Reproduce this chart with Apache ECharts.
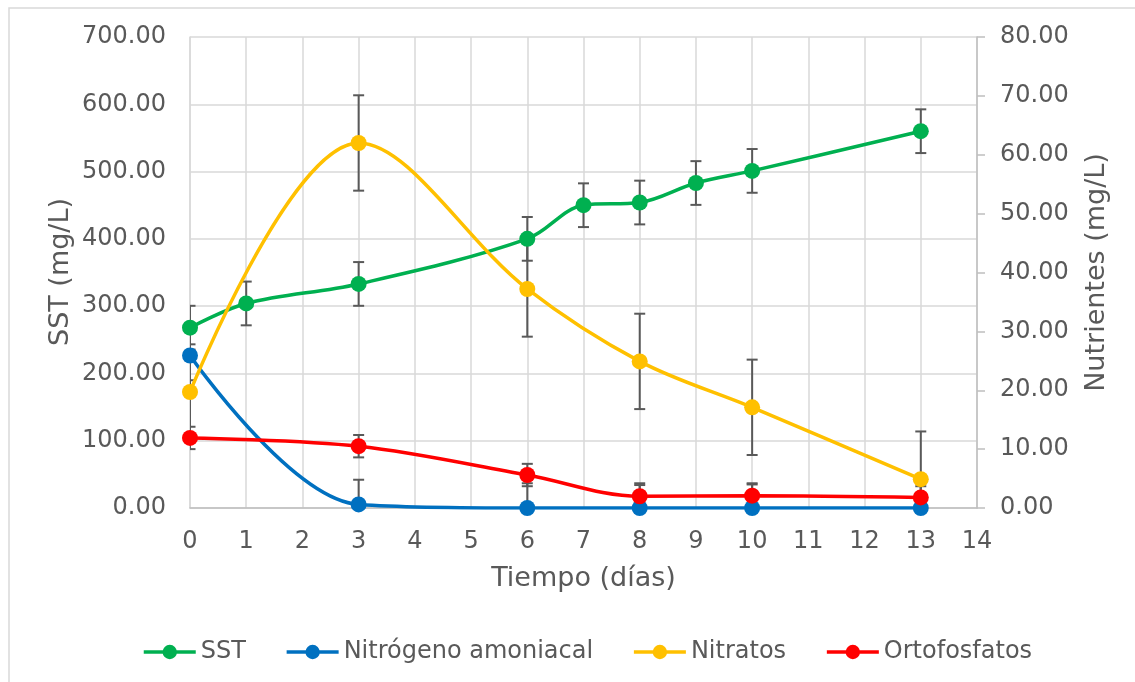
<!DOCTYPE html>
<html>
<head>
<meta charset="utf-8">
<script src="https://cdn.jsdelivr.net/npm/echarts@6/dist/echarts.min.js"></script>
<style>html,body{margin:0;padding:0;background:#fff}#c{width:1135px;height:682px}</style>
</head>
<body>
<div id="c"></div>
<script>
// ---- data ----
const sstDays = [0, 1, 3, 6, 7, 8, 9, 10, 13];
const sstValues = [268, 304, 333, 400, 450, 454, 483, 501, 560];
const sstErrors = [32.5, 32.5, 32.5, 32.5, 32.5, 32.5, 32.5, 32.5, 32.5];

const nutDays = [0, 3, 6, 8, 10, 13];
const amoniacalValues = [25.9, 0.6, 0, 0, 0, 0];
const amoniacalErrors = [4.2, 4.2, 4.2, 4.2, 4.2, 4.2];
const nitratosValues = [19.7, 62.0, 37.2, 24.9, 17.1, 4.9];
const nitratosErrors = [8.1, 8.1, 8.1, 8.1, 8.1, 8.1];
const ortofosfatosValues = [11.9, 10.5, 5.6, 2.0, 2.1, 1.8];
const ortofosfatosErrors = [1.9, 1.9, 1.9, 1.9, 1.9, 1.9];

const seriesNames = ['SST', 'Nitrógeno amoniacal', 'Nitratos', 'Ortofosfatos'];
const colors = ['#00B050', '#0070C0', '#FFC000', '#FF0000'];
const leftAxisTitle = 'SST (mg/L)';

// ---- chart ----
const FONT = 'DejaVu Sans';
const TXT = '#595959';
const chart = echarts.init(document.getElementById('c'), null, {renderer: 'canvas'});

function pts(xs, ys) { return xs.map((x, i) => [x, ys[i]]); }
function errPts(xs, ys, es) { return xs.map((x, i) => [x, ys[i], es[i]]); }

function errorSeries(xs, ys, es, yAxisIndex) {
  return {
    type: 'custom',
    yAxisIndex: yAxisIndex,
    silent: true,
    clip: true,
    z: 1,
    encode: {x: 0, y: 1},
    data: errPts(xs, ys, es),
    renderItem: function (params, api) {
      const x = api.value(0), y = api.value(1), e = api.value(2);
      const top = api.coord([x, y + e]);
      const bot = api.coord([x, y - e]);
      const hw = 5.5;
      const st = {stroke: '#595959', lineWidth: 2};
      return {
        type: 'group',
        children: [
          {type: 'line', shape: {x1: top[0], y1: top[1], x2: bot[0], y2: bot[1]}, style: st},
          {type: 'line', shape: {x1: top[0] - hw, y1: top[1], x2: top[0] + hw, y2: top[1]}, style: st},
          {type: 'line', shape: {x1: bot[0] - hw, y1: bot[1], x2: bot[0] + hw, y2: bot[1]}, style: st}
        ]
      };
    }
  };
}

function lineSeries(name, xs, ys, color, yAxisIndex) {
  return {
    name: name,
    type: 'line',
    yAxisIndex: yAxisIndex,
    data: pts(xs, ys),
    smooth: 0.35,
    symbol: 'circle',
    symbolSize: 16,
    z: 3,
    lineStyle: {color: color, width: 3.5},
    itemStyle: {color: color},
    clip: true
  };
}

const option = {
  backgroundColor: '#fff',
  animation: false,
  textStyle: {fontFamily: FONT},
  graphic: [{
    type: 'rect',
    shape: {x: 9, y: 8, width: 1140, height: 690},
    style: {fill: 'none', stroke: '#D9D9D9', lineWidth: 1.5},
    silent: true
  }, {
    type: 'text',
    x: 61, y: 272,
    rotation: Math.PI / 2,
    silent: true,
    style: {text: leftAxisTitle, fontFamily: FONT, fontSize: 27, fill: TXT,
      align: 'center', verticalAlign: 'middle'}
  }],
  grid: {left: 190, right: 158, top: 37, bottom: 174, containLabel: false},
  legend: {
    data: seriesNames,
    bottom: 13,
    left: 137,
    itemWidth: 52,
    itemHeight: 18,
    itemGap: 39,
    lineStyle: {width: 3.5},
    textStyle: {fontFamily: FONT, fontSize: 24, color: TXT}
  },
  xAxis: {
    type: 'value',
    min: 0, max: 14, interval: 1,
    name: 'Tiempo (días)',
    nameLocation: 'middle',
    nameGap: 57,
    nameTextStyle: {fontFamily: FONT, fontSize: 27, color: TXT},
    axisLine: {show: true, lineStyle: {color: '#BFBFBF', width: 1.5}},
    axisTick: {show: false},
    axisLabel: {fontFamily: FONT, fontSize: 24, color: TXT, margin: 22},
    splitLine: {show: true, lineStyle: {color: '#D9D9D9', width: 1.5}}
  },
  yAxis: [{
    type: 'value',
    min: 0, max: 700, interval: 100,
    axisLine: {show: true, lineStyle: {color: '#D9D9D9', width: 1.5}},
    axisTick: {show: false},
    axisLabel: {fontFamily: FONT, fontSize: 24, color: TXT, margin: 24,
      formatter: v => v.toFixed(2)},
    splitLine: {show: true, lineStyle: {color: '#D9D9D9', width: 1.5}}
  }, {
    type: 'value',
    min: 0, max: 80, interval: 10,
    position: 'right',
    name: 'Nutrientes (mg/L)',
    nameLocation: 'middle',
    nameGap: 106,
    nameMoveOverlap: false,
    nameRotate: 90,
    nameTextStyle: {fontFamily: FONT, fontSize: 27, color: TXT},
    axisLine: {show: true, lineStyle: {color: '#BFBFBF', width: 1.5}},
    axisTick: {show: true, inside: false, length: 8, lineStyle: {color: '#BFBFBF', width: 1.5}},
    axisLabel: {fontFamily: FONT, fontSize: 24, color: TXT, margin: 23,
      formatter: v => v.toFixed(2)},
    splitLine: {show: false}
  }],
  series: [
    errorSeries(sstDays, sstValues, sstErrors, 0),
    errorSeries(nutDays, amoniacalValues, amoniacalErrors, 1),
    errorSeries(nutDays, nitratosValues, nitratosErrors, 1),
    errorSeries(nutDays, ortofosfatosValues, ortofosfatosErrors, 1),
    lineSeries(seriesNames[0], sstDays, sstValues, colors[0], 0),
    lineSeries(seriesNames[1], nutDays, amoniacalValues, colors[1], 1),
    lineSeries(seriesNames[2], nutDays, nitratosValues, colors[2], 1),
    lineSeries(seriesNames[3], nutDays, ortofosfatosValues, colors[3], 1)
  ]
};
chart.setOption(option);
</script>
</body>
</html>
